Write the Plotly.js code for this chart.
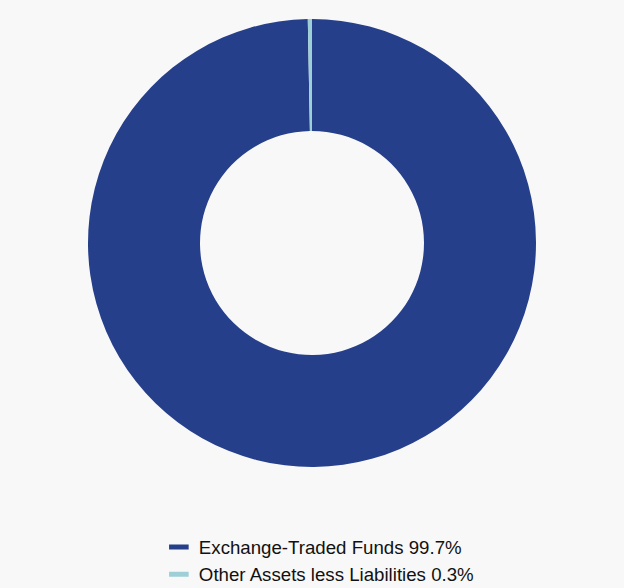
<!DOCTYPE html>
<html><head><meta charset="utf-8">
<script src="https://cdn.plot.ly/plotly-3.0.1.min.js"></script>
<style>html,body{margin:0;padding:0;background:#f8f8f8;}</style>
</head><body>
<div id="chart" style="width:624px;height:588px;"></div>
<script>
const categories = ["Exchange-Traded Funds", "Other Assets less Liabilities"];
const values = [99.7, 0.3];
const legendLabels = ["Exchange-Traded Funds 99.7%", "Other Assets less Liabilities 0.3%"];
const colors = ["#253f8a", "#9ecfd6"];

const pie = {
  type: "pie",
  labels: categories,
  values: values,
  hole: 0.5,
  sort: false,
  direction: "clockwise",
  rotation: 0,
  textinfo: "none",
  hoverinfo: "label+percent",
  marker: {colors: colors, line: {width: 0}},
  showlegend: false,
  domain: {x: [0.141, 0.859], y: [0.2058, 0.9677]}
};
const legendTraces = legendLabels.map((t, i) => ({
  type: "scatter",
  mode: "markers",
  x: [null], y: [null],
  name: t,
  marker: {symbol: "line-ew", size: 14, color: colors[i], line: {width: 5, color: colors[i]}},
  hoverinfo: "skip"
}));

Plotly.newPlot("chart", [pie].concat(legendTraces), {
  width: 624, height: 588,
  margin: {l: 0, r: 0, t: 0, b: 0, autoexpand: false},
  paper_bgcolor: "#f8f8f8",
  plot_bgcolor: "#f8f8f8",
  xaxis: {visible: false},
  yaxis: {visible: false},
  showlegend: true,
  legend: {
    orientation: "v",
    x: 0.511, xanchor: "center",
    y: -0.009, yanchor: "bottom",
    font: {family: "Liberation Sans, Arial, sans-serif", size: 18.67, color: "#111111"},
    bgcolor: "rgba(0,0,0,0)",
    tracegroupgap: 0
  }
}, {displayModeBar: false, staticPlot: true});
</script>
</body></html>
